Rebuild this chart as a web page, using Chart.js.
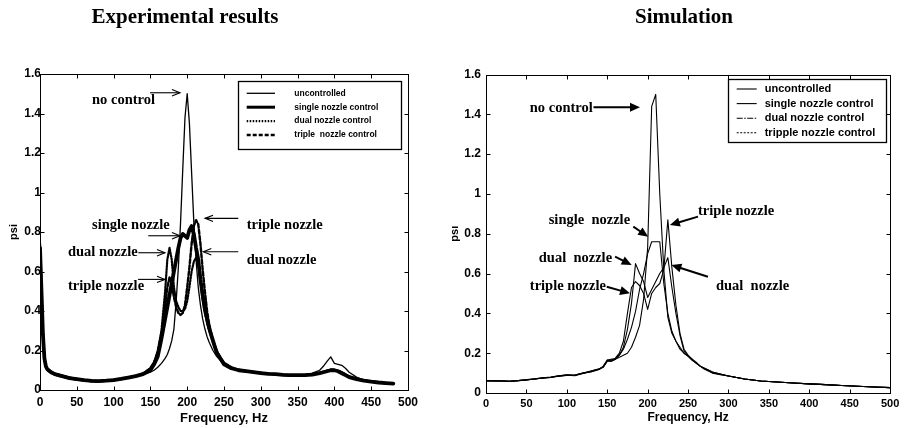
<!DOCTYPE html>
<html><head><meta charset="utf-8">
<script src="https://cdn.jsdelivr.net/npm/chart.js@4.4.1/dist/chart.umd.min.js"></script>
<style>
html,body{margin:0;padding:0;background:#fff;}
#wrap{position:relative;width:904px;height:428px;overflow:hidden;background:#fff;}
.c{position:absolute;top:0;width:452px;height:428px;}
</style></head><body>
<div id="wrap">
<div class="c" style="left:0"><canvas id="left" width="452" height="428"></canvas></div>
<div class="c" style="left:452px"><canvas id="right" width="452" height="428"></canvas></div>
</div>
<script>
// ---------- DATA ----------
const seriesNames = ['uncontrolled', 'single nozzle control', 'dual nozzle control', 'triple  nozzle control'];
const simSeriesNames = ['uncontrolled', 'single nozzle control', 'dual nozzle control', 'tripple nozzle control'];
const xTickLabels = ['0','50','100','150','200','250','300','350','400','450','500'];
const yTickLabels = ['0','0.2','0.4','0.6','0.8','1','1.2','1.4','1.6'];

// Experimental results (Hz, psi)
const expFreq = [0,2,4,6,8,10,15,20,30,40, 50,60,70,80,90,100,110,120,130,140,
  150,155,160,165,170,173,176,179,182,185, 188,191,194,197,200,203,206,209,212,215,
  218,221,224,227,230,235,240,245,250,260, 270,280,290,300,310,320,330,340,350,360,
  370,380,385,390,395,400,405,410,415,420, 430,440,450,460,470,480];
const expUncontrolled = [0.75,0.55,0.3,0.16,0.12,0.11,0.095,0.085,0.075,0.065,
  0.058,0.052,0.048,0.047,0.048,0.052,0.058,0.064,0.07,0.078,
  0.09,0.1,0.115,0.135,0.16,0.18,0.21,0.25,0.31,0.45,
  0.62,0.85,1.12,1.38,1.5,1.35,1.1,0.85,0.66,0.52,
  0.43,0.36,0.31,0.27,0.24,0.2,0.17,0.15,0.135,0.115,
  0.1,0.092,0.088,0.085,0.08,0.078,0.075,0.075,0.076,0.078,
  0.085,0.1,0.12,0.145,0.168,0.135,0.13,0.125,0.11,0.09,
  0.065,0.05,0.042,0.038,0.035,0.032];
const expSingle = [0.72,0.5,0.28,0.16,0.12,0.105,0.09,0.08,0.07,0.06,
  0.055,0.05,0.046,0.045,0.047,0.05,0.056,0.063,0.07,0.08,
  0.1,0.13,0.17,0.26,0.36,0.42,0.48,0.54,0.6,0.66,
  0.72,0.77,0.79,0.78,0.77,0.81,0.83,0.79,0.72,0.66,
  0.56,0.48,0.41,0.36,0.31,0.25,0.19,0.16,0.13,0.11,
  0.1,0.095,0.09,0.085,0.082,0.08,0.077,0.075,0.075,0.075,
  0.078,0.085,0.09,0.095,0.1,0.1,0.095,0.085,0.075,0.065,
  0.055,0.048,0.042,0.038,0.035,0.032];
const expDual = [0.7,0.48,0.27,0.15,0.115,0.1,0.088,0.078,0.068,0.058,
  0.052,0.048,0.044,0.044,0.046,0.05,0.055,0.062,0.07,0.082,
  0.11,0.14,0.2,0.3,0.5,0.66,0.72,0.66,0.52,0.45,
  0.42,0.4,0.4,0.41,0.45,0.52,0.6,0.65,0.67,0.64,
  0.55,0.46,0.39,0.34,0.3,0.24,0.19,0.16,0.135,0.112,
  0.1,0.094,0.09,0.086,0.082,0.079,0.076,0.074,0.074,0.075,
  0.08,0.088,0.092,0.098,0.102,0.1,0.096,0.088,0.078,0.068,
  0.056,0.048,0.042,0.038,0.034,0.031];
const expTriple = [0.74,0.52,0.29,0.16,0.12,0.108,0.092,0.082,0.072,0.062,
  0.056,0.05,0.047,0.046,0.048,0.052,0.057,0.064,0.072,0.083,
  0.11,0.14,0.19,0.28,0.42,0.52,0.57,0.54,0.47,0.42,
  0.39,0.38,0.39,0.43,0.52,0.62,0.74,0.83,0.86,0.84,
  0.74,0.61,0.5,0.4,0.33,0.25,0.2,0.165,0.138,0.115,
  0.102,0.096,0.091,0.087,0.083,0.08,0.077,0.075,0.075,0.076,
  0.079,0.087,0.092,0.097,0.103,0.102,0.097,0.09,0.079,0.069,
  0.057,0.049,0.043,0.039,0.035,0.032];

// Simulation (Hz, psi)
const simFreq = [0,10,20,30,40,50,60,70,80,90, 100,110,120,130,140,145,150,155,160,165,
  170,175,180,185,190,195,200,205,210,215, 220,225,230,235,240,245,250,255,260,265,
  270,275,280,290,300,320,340,360,380,400, 420,440,460,480,500];
const simUncontrolled = [0.06,0.06,0.06,0.058,0.062,0.065,0.07,0.075,0.078,0.085,
  0.09,0.088,0.1,0.108,0.12,0.13,0.165,0.16,0.17,0.18,
  0.19,0.2,0.23,0.28,0.34,0.47,0.73,1.44,1.5,1.0,
  0.62,0.38,0.3,0.26,0.23,0.2,0.185,0.165,0.15,0.135,
  0.124,0.115,0.105,0.095,0.085,0.07,0.06,0.055,0.05,0.046,
  0.042,0.038,0.034,0.03,0.027];
const simSingle = [0.062,0.062,0.06,0.058,0.062,0.065,0.07,0.074,0.078,0.084,
  0.088,0.09,0.1,0.106,0.118,0.13,0.16,0.16,0.17,0.19,
  0.22,0.27,0.33,0.41,0.52,0.6,0.7,0.76,0.76,0.76,
  0.55,0.4,0.31,0.26,0.22,0.2,0.185,0.165,0.15,0.135,
  0.12,0.11,0.1,0.092,0.085,0.07,0.06,0.055,0.05,0.046,
  0.042,0.038,0.034,0.03,0.027];
const simDual = [0.06,0.06,0.061,0.059,0.062,0.066,0.071,0.076,0.079,0.086,
  0.09,0.087,0.098,0.11,0.12,0.135,0.165,0.17,0.17,0.19,
  0.23,0.32,0.45,0.65,0.6,0.56,0.48,0.52,0.56,0.6,
  0.63,0.68,0.53,0.4,0.29,0.21,0.185,0.17,0.155,0.135,
  0.125,0.115,0.105,0.095,0.085,0.07,0.06,0.055,0.05,0.046,
  0.042,0.038,0.034,0.03,0.027];
const simTriple = [0.063,0.061,0.06,0.061,0.063,0.067,0.07,0.076,0.08,0.087,
  0.091,0.09,0.1,0.11,0.122,0.13,0.16,0.165,0.175,0.2,
  0.26,0.4,0.53,0.56,0.54,0.5,0.42,0.5,0.53,0.55,
  0.62,0.87,0.63,0.44,0.3,0.22,0.19,0.17,0.15,0.135,
  0.122,0.113,0.103,0.093,0.085,0.07,0.06,0.055,0.05,0.046,
  0.042,0.038,0.034,0.03,0.027];

// ---------- RENDERING ----------
Chart.defaults.color = '#000';
Chart.defaults.font.family = "'Liberation Sans', Arial, sans-serif";
Chart.defaults.font.weight = 'bold';
Chart.defaults.animation = false;

function pts(xs, ys) { return xs.map((x, i) => ({x: x, y: ys[i]})); }

function arrow(ctx, x1, y1, x2, y2, filled) {
  const ang = Math.atan2(y2 - y1, x2 - x1);
  const L = filled ? 10 : 8, W = filled ? 4.5 : 3.2;
  ctx.beginPath();
  ctx.moveTo(x1, y1);
  ctx.lineTo(filled ? x2 - Math.cos(ang) * L * 0.8 : x2, filled ? y2 - Math.sin(ang) * L * 0.8 : y2);
  ctx.stroke();
  const bx = x2 - Math.cos(ang) * L, by = y2 - Math.sin(ang) * L;
  const px = -Math.sin(ang) * W, py = Math.cos(ang) * W;
  ctx.beginPath();
  if (filled) {
    ctx.moveTo(x2, y2); ctx.lineTo(bx + px, by + py); ctx.lineTo(bx - px, by - py); ctx.closePath(); ctx.fill();
  } else {
    ctx.moveTo(bx + px, by + py); ctx.lineTo(x2, y2); ctx.lineTo(bx - px, by - py); ctx.stroke();
  }
}

const decor = {
  id: 'decor',
  afterDraw(chart, args, o) {
    const ctx = chart.ctx, a = chart.chartArea;
    const xs = chart.scales.x, ys = chart.scales.y;
    ctx.save();
    ctx.strokeStyle = '#000'; ctx.fillStyle = '#000'; ctx.lineWidth = 1;
    // frame
    const L = Math.round(a.left) + 0.5, T = Math.round(a.top) + 0.5;
    const R = Math.round(a.right) + 0.5, B = Math.round(a.bottom) + 0.5;
    ctx.strokeRect(L, T, R - L, B - T);
    // inward ticks on all sides
    ctx.beginPath();
    xs.ticks.forEach(t => {
      const p = Math.round(xs.getPixelForValue(t.value)) + 0.5;
      ctx.moveTo(p, B); ctx.lineTo(p, B - o.tickLen);
      ctx.moveTo(p, T); ctx.lineTo(p, T + o.tickLen);
    });
    ys.ticks.forEach(t => {
      const p = Math.round(ys.getPixelForValue(t.value)) + 0.5;
      ctx.moveTo(L, p); ctx.lineTo(L + o.tickLen, p);
      ctx.moveTo(R, p); ctx.lineTo(R - o.tickLen, p);
    });
    ctx.stroke();
    // title
    ctx.font = "bold 21px 'Liberation Serif', 'Times New Roman', serif";
    ctx.textAlign = 'center'; ctx.textBaseline = 'middle';
    ctx.fillText(o.title, o.titleX, 18);
    // legend box
    const lg = o.legend;
    const bx = a.left + lg.dx, by = a.top + lg.dy;
    ctx.fillStyle = '#fff';
    ctx.fillRect(bx, by, lg.w, lg.h);
    ctx.fillStyle = '#000';
    ctx.lineWidth = 1.3;
    ctx.strokeRect(Math.round(bx) + 0.5, Math.round(by) + 0.5, lg.w, lg.h);
    ctx.font = 'bold ' + lg.font + "px 'Liberation Sans', Arial, sans-serif";
    ctx.textAlign = 'left';
    chart.data.datasets.forEach((ds, i) => {
      const yy = by + lg.first + i * lg.step;
      ctx.save();
      ctx.strokeStyle = ds.borderColor;
      ctx.lineWidth = Math.min(ds.borderWidth, 3);
      ctx.setLineDash(ds.legendDash || ds.borderDash || []);
      ctx.beginPath(); ctx.moveTo(bx + lg.l1, yy); ctx.lineTo(bx + lg.l2, yy); ctx.stroke();
      ctx.restore();
      ctx.fillText(ds.label, bx + lg.tx, yy);
    });
    // annotations
    ctx.font = "bold 14.5px 'Liberation Serif', 'Times New Roman', serif";
    ctx.textAlign = 'left'; ctx.textBaseline = 'middle';
    ctx.lineWidth = o.arrowWidth;
    o.notes.forEach(n => {
      ctx.fillText(n.text, xs.getPixelForValue(n.tx), ys.getPixelForValue(n.ty));
      arrow(ctx, xs.getPixelForValue(n.a[0]), ys.getPixelForValue(n.a[1]),
        xs.getPixelForValue(n.a[2]), ys.getPixelForValue(n.a[3]), o.filled);
    });
    ctx.restore();
  }
};

function makeChart(id, cfg) {
  return new Chart(document.getElementById(id), {
    type: 'line',
    data: { datasets: cfg.datasets },
    options: {
      responsive: false,
      animation: false,
      layout: { padding: cfg.padding },
      elements: { point: { radius: 0 }, line: { tension: 0, borderJoinStyle: 'round', borderCapStyle: 'round' } },
      plugins: { legend: { display: false }, tooltip: { enabled: false }, decor: cfg.decor },
      scales: {
        x: {
          type: 'linear', min: 0, max: 500,
          grid: { display: false, drawTicks: false }, border: { display: false },
          ticks: { stepSize: 50, padding: cfg.xPad, font: { size: cfg.xFont, weight: 'bold' }, maxRotation: 0,
            callback: (v) => xTickLabels[Math.round(v / 50)] },
          title: { display: true, text: 'Frequency, Hz', font: { size: cfg.xTitleFont, weight: 'bold' },
            padding: { top: 0, bottom: cfg.xTitlePad } },
          afterFit: (s) => { s.height = cfg.xHeight; }
        },
        y: {
          type: 'linear', min: 0, max: 1.6,
          grid: { display: false, drawTicks: false }, border: { display: false },
          ticks: { stepSize: 0.2, padding: cfg.yPad, font: { size: 12, weight: 'bold' },
            callback: (v) => yTickLabels[Math.round(v * 5)] },
          title: { display: true, text: 'psi', font: { size: 11, weight: 'bold' },
            padding: { top: cfg.yTitlePad, bottom: 0 } },
          afterFit: (s) => { s.width = cfg.yWidth; }
        }
      }
    },
    plugins: [decor]
  });
}

const K = '#000';
makeChart('left', {
  padding: { left: 0, top: 74, right: 44, bottom: 0 },
  xHeight: 38, yWidth: 40, xPad: 5, yPad: -1, xFont: 12, xTitleFont: 13, xTitlePad: 2.2, yTitlePad: 7.4,
  datasets: [
    { label: seriesNames[0], data: pts(expFreq, expUncontrolled), borderColor: K, borderWidth: 1.3 },
    { label: seriesNames[1], data: pts(expFreq, expSingle), borderColor: K, borderWidth: 3.8 },
    { label: seriesNames[2], data: pts(expFreq, expDual), borderColor: K, borderWidth: 2.2, borderDash: [1.5, 1.5] },
    { label: seriesNames[3], data: pts(expFreq, expTriple), borderColor: K, borderWidth: 2.4, borderDash: [4, 2] }
  ],
  decor: {
    title: 'Experimental results', titleX: 185, tickLen: 4, arrowWidth: 1.1, filled: false,
    legend: { dx: 198, dy: 7, w: 163, h: 68, first: 12.3, step: 13.9, l1: 8.7, l2: 37, tx: 56.3, font: 8.5 },
    notes: [
      { text: 'no control', tx: 70.7, ty: 1.468, a: [149.5, 1.505, 190.2, 1.505] },
      { text: 'single nozzle', tx: 70.7, ty: 0.835, a: [147.1, 0.781, 190.2, 0.781] },
      { text: 'dual nozzle', tx: 38, ty: 0.70, a: [133.6, 0.695, 169.8, 0.695] },
      { text: 'triple nozzle', tx: 38, ty: 0.523, a: [133.2, 0.56, 169.8, 0.56] },
      { text: 'triple nozzle', tx: 280.8, ty: 0.835, a: [269.4, 0.869, 224.2, 0.869] },
      { text: 'dual nozzle', tx: 280.8, ty: 0.655, a: [269.4, 0.70, 221.9, 0.70] }
    ]
  }
});

makeChart('right', {
  padding: { left: 0, top: 74.5, right: 12, bottom: 0 },
  xHeight: 35, yWidth: 34, xPad: 4.7, yPad: 5, xFont: 11, xTitleFont: 12, xTitlePad: 2.8, yTitlePad: -3.5,
  datasets: [
    { label: simSeriesNames[0], data: pts(simFreq, simUncontrolled), borderColor: K, borderWidth: 1.1 },
    { label: simSeriesNames[1], data: pts(simFreq, simSingle), borderColor: K, borderWidth: 1.1 },
    { label: simSeriesNames[2], data: pts(simFreq, simDual), borderColor: K, borderWidth: 1.1, legendDash: [6, 1.5, 1.5, 1.5] },
    { label: simSeriesNames[3], data: pts(simFreq, simTriple), borderColor: K, borderWidth: 1.1, legendDash: [2, 1.5] }
  ],
  decor: {
    title: 'Simulation', titleX: 232, tickLen: 4, arrowWidth: 2, filled: true,
    legend: { dx: 242, dy: 4.5, w: 158, h: 63, first: 10, step: 14.6, l1: 8.7, l2: 28.7, tx: 36.7, font: 11 },
    notes: [
      { text: 'no control', tx: 54.2, ty: 1.431, a: [133, 1.436, 190.5, 1.436] },
      { text: 'single  nozzle', tx: 77.6, ty: 0.866, a: [182.3, 0.836, 200.7, 0.785] },
      { text: 'dual  nozzle', tx: 65.3, ty: 0.677, a: [159.7, 0.685, 180.2, 0.643] },
      { text: 'triple nozzle', tx: 54.2, ty: 0.534, a: [149.4, 0.534, 178.2, 0.501] },
      { text: 'triple nozzle', tx: 262.3, ty: 0.911, a: [262.3, 0.886, 227.5, 0.844] },
      { text: 'dual  nozzle', tx: 284.5, ty: 0.534, a: [274.6, 0.584, 229.4, 0.643] }
    ]
  }
});
</script>
</body></html>
